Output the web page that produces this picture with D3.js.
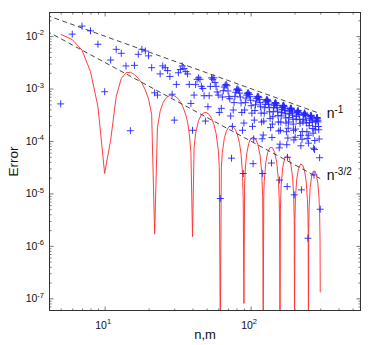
<!DOCTYPE html>
<html>
<head>
<meta charset="utf-8">
<script src="https://cdn.jsdelivr.net/npm/d3@7"></script>
<style>
  body { margin: 0; background: #fff; }
  svg { display: block; font-family: "Liberation Sans", Arial, Helvetica, sans-serif; }
</style>
</head>
<body>
<div id="chart"></div>
<script>
// Error vs n,m — log-log, red curve + blue "+" markers + two reference slopes

// ---- data ----
const redN = [5,6,7,8,9,10,11,12,13,14,15,16,17,18,19,20,21,22,23,24,25,26,27,28,29,30,31,32,33,34,35,36,37,38,39,40,
  41,42,44,46,48,50,52,54,56,58,60,61,62,
  63,64,66,68,70,72,75,78,81,84,86,88,89,90,
  91,92,94,97,100,104,108,112,116,119,121,122,
  123,124,127,131,136,141,146,151,155,157,158,159,
  160,162,166,171,177,183,189,194,197,199,200,
  201,203,207,213,220,227,234,240,245,247,248,249,
  250,252,256,262,269,276,283,289,294,297,299,300];
const redErr = [1.08e-2,8.6e-3,5.4e-3,2.1e-3,4.5e-4,2.4e-5,1.05e-4,7.0e-4,1.56e-3,2.0e-3,2.05e-3,1.85e-3,1.56e-3,1.27e-3,9.4e-4,6.3e-4,3.2e-4,1.7e-6,1.8e-4,3.7e-4,5.2e-4,6.3e-4,7.0e-4,7.4e-4,7.5e-4,7.3e-4,6.9e-4,6.3e-4,5.6e-4,4.8e-4,3.9e-4,3.1e-4,2.3e-4,1.4e-4,6.0e-5,1.5e-6,
  7.4e-5,1.41e-4,2.46e-4,3.15e-4,3.48e-4,3.47e-4,3.19e-4,2.71e-4,2.09e-4,1.39e-4,6.9e-5,3.3e-5,2e-8,
  3.1e-5,6.0e-5,1.11e-4,1.50e-4,1.77e-4,1.91e-4,1.92e-4,1.72e-4,1.35e-4,8.96e-5,5.6e-5,2.4e-5,7.6e-6,8e-8,
  1.55e-5,3.05e-5,5.7e-5,8.9e-5,1.10e-4,1.195e-4,1.10e-4,8.66e-5,5.4e-5,2.67e-5,8.7e-6,2e-8,
  8.6e-6,1.68e-5,3.87e-5,6.1e-5,7.55e-5,7.47e-5,6.1e-5,3.9e-5,1.83e-5,7.8e-6,2.6e-6,2e-8,
  5.0e-6,1.47e-5,3.14e-5,4.6e-5,5.3e-5,4.85e-5,3.5e-5,1.98e-5,9.8e-6,3.2e-6,2e-8,
  2.9e-6,8.5e-6,1.86e-5,3.0e-5,3.63e-5,3.49e-5,2.72e-5,1.72e-5,7.7e-6,3.8e-6,1.9e-6,2e-8,
  1.96e-6,5.9e-6,1.3e-5,2.14e-5,2.66e-5,2.66e-5,2.19e-5,1.52e-5,8.5e-6,4.2e-6,1.35e-6,1.3e-7];

const blueN = [5,6,7,8,9,10,11,12,13,14,15,16,17,18,19,
  20,21,22,23,24,25,26,27,28,29,30,31,32,33,34,35,36,37,38,39,
  40,41,42,43,44,45,46,47,48,49,51,52,53,54,55,56,57,58,59,60,61,
  62,63,64,65,66,67,68,69,70,71,72,73,74,75,76,77,78,79,80,
  81,82,83,84,85,86,87,88,89,90,91,92,93,94,95,96,97,98,99,100,
  102,104,106,108,110,112,114,116,118,120,121,122,124,126,128,130,132,134,136,137,139,
  141,143,145,147,149,151,153,155,157,158,160,162,164,166,168,170,172,174,176,178,
  180,182,184,186,188,190,192,194,196,198,199,202,205,208,211,214,217,220,223,
  225,228,231,234,237,240,243,247,249,252,255,258,261,264,267,270,272,
  274,277,280,283,286,289,292,295,297,300,
  101,103,105,107,109,111,113,115,117,119,123,125,127,129,131,133,135,140,142,144,146,148,150,152,154,156,
  159,161,163,165,167,169,171,173,175,177,179,181,183,185,187,189,191,193,195,197,
  203,206,209,212,215,218,221,226,229,232,235,238,241,244,
  250,253,256,259,262,265,268,275,278,281,284,287,290,293];
const blueErr = [5.1e-4,1.09e-2,1.55e-2,1.26e-2,7.0e-3,8.7e-4,3.5e-3,5.6e-3,4.7e-3,2.7e-3,1.57e-4,2.77e-3,4.5e-3,5.6e-3,5.2e-3,
  4.2e-3,2.5e-3,8.3e-4,7.5e-4,1.9e-3,2.7e-3,2.5e-3,2.2e-3,1.7e-3,7.8e-4,2.5e-4,1.2e-3,2.0e-3,2.3e-3,2.7e-3,2.4e-3,2.1e-3,1.9e-3,1.2e-3,5.2e-4,
  1.6e-4,7.5e-4,1.2e-3,1.5e-3,1.6e-3,1.5e-3,1.1e-3,1.0e-3,7.3e-4,2.4e-4,4.5e-4,7.3e-4,1.1e-3,1.6e-3,1.5e-3,1.6e-3,1.3e-3,1.1e-3,8.6e-4,7.5e-4,3.5e-4,
  8.0e-6,4.2e-4,6.9e-4,9.1e-4,1.07e-3,1.16e-3,1.2e-3,1.13e-3,9.0e-4,7.0e-4,6.4e-4,3.0e-4,4.7e-5,1.9e-4,3.9e-4,5.4e-4,7.1e-4,8.5e-4,9.4e-4,
  9.8e-4,9.7e-4,9.2e-4,8.2e-4,6.9e-4,5.3e-4,3.5e-4,1.6e-4,2.4e-5,2.2e-4,3.9e-4,5.4e-4,6.6e-4,7.5e-4,8.1e-4,8.3e-4,8.2e-4,7.7e-4,7.0e-4,6.0e-4,
  3.4e-4,3.7e-5,2.5e-4,4.9e-4,6.5e-4,7.1e-4,6.7e-4,5.4e-4,3.4e-4,1.1e-4,2.4e-5,1.3e-4,3.4e-4,5.0e-4,6.0e-4,6.1e-4,5.6e-4,4.4e-4,2.7e-4,1.8e-4,3.8e-5,
  2.1e-4,3.6e-4,4.8e-4,5.3e-4,5.3e-4,4.75e-4,3.7e-4,2.3e-4,7.4e-5,1.8e-5,1.6e-4,3.0e-4,4.0e-4,4.6e-4,4.8e-4,4.5e-4,3.8e-4,2.75e-4,1.5e-4,1.35e-5,
  1.14e-4,2.3e-4,3.3e-4,3.9e-4,4.2e-4,4.2e-4,3.75e-4,3.1e-4,2.1e-4,1.05e-4,9.4e-6,1.18e-4,2.6e-4,3.5e-4,3.8e-4,3.45e-4,2.55e-4,1.28e-4,1.17e-5,
  1.08e-4,2.3e-4,3.1e-4,3.4e-4,3.2e-4,2.5e-4,1.5e-4,1.4e-6,9.1e-5,1.96e-4,2.7e-4,3.06e-4,2.99e-4,2.5e-4,1.73e-4,7.3e-5,2.25e-5,
  6.9e-5,1.63e-4,2.34e-4,2.74e-4,2.78e-4,2.49e-4,1.89e-4,1.09e-4,4.8e-5,5.0e-6,
  4.7e-4,1.9e-4,1.1e-4,3.8e-4,5.8e-4,6.9e-4,7.0e-4,6.2e-4,4.5e-4,2.3e-4,2.4e-4,4.3e-4,5.6e-4,6.2e-4,5.9e-4,5.0e-4,3.6e-4,1.17e-4,2.9e-4,4.3e-4,5.1e-4,5.4e-4,5.1e-4,4.3e-4,3.05e-4,1.55e-4,
  8.7e-5,2.3e-4,3.5e-4,4.35e-4,4.7e-4,4.7e-4,4.2e-4,3.3e-4,2.2e-4,8.5e-5,4.9e-5,1.75e-4,2.8e-4,3.6e-4,4.1e-4,4.2e-4,4.0e-4,3.4e-4,2.6e-4,1.6e-4,
  1.69e-4,2.95e-4,3.66e-4,3.75e-4,3.2e-4,2.17e-4,8.1e-5,1.52e-4,2.6e-4,3.26e-4,3.4e-4,3.03e-4,2.2e-4,1.12e-4,
  1.29e-4,2.25e-4,2.9e-4,3.09e-4,2.88e-4,2.29e-4,1.41e-4,1.02e-4,1.9e-4,2.5e-4,2.79e-4,2.72e-4,2.32e-4,1.64e-4];

// reference slopes, drawn from n=4 to n=300
const refN = [4, 300];
const refInv = [0.025, 3.33e-4];      // 0.1 n^-1
const refInv32 = [0.0125, 1.92e-5];   // 0.1 n^-3/2

const xTickExp = [1, 2];
const yTickExp = [-2, -3, -4, -5, -6, -7];
const xDomain = [4.19, 566];
const yDomain = [5.86e-8, 2.82e-2];

// ---- layout ----
const W = 374, H = 345;
const M = { left: 49.5, right: 13.5, top: 12.5, bottom: 34.5 };

const x = d3.scaleLog().domain(xDomain).range([M.left, W - M.right]);
const y = d3.scaleLog().domain(yDomain).range([H - M.bottom, M.top]);

const svg = d3.select("#chart").append("svg").attr("width", W).attr("height", H);

svg.append("defs").append("clipPath").attr("id", "plotClip").append("rect")
  .attr("x", M.left).attr("y", M.top)
  .attr("width", W - M.left - M.right).attr("height", H - M.top - M.bottom);

// log ticks: every d*10^k inside the domain
function logTicks(dom) {
  const out = [];
  for (let e = Math.floor(Math.log10(dom[0])); e <= Math.ceil(Math.log10(dom[1])); e++)
    for (let d = 1; d < 10; d++) {
      const v = d * Math.pow(10, e);
      if (v >= dom[0] && v <= dom[1]) out.push(v);
    }
  return out;
}
const isDecade = v => Math.abs(Math.log10(v) - Math.round(Math.log10(v))) < 1e-9;
const xMinor = logTicks(xDomain).filter(v => !isDecade(v));
const yMinor = logTicks(yDomain).filter(v => !isDecade(v));
const xMajor = xTickExp.map(e => Math.pow(10, e));
const yMajor = yTickExp.map(e => Math.pow(10, e));

function ticks(axisFn, scale, values, size, tx, ty) {
  svg.append("g").attr("class", "ticks").attr("transform", `translate(${tx},${ty})`)
    .call(axisFn(scale).tickValues(values).tickSize(size).tickFormat(""))
    .call(g => g.select(".domain").remove())
    .selectAll("line").attr("stroke", "#555").attr("stroke-width", 0.8);
}
[[xMinor, -2], [xMajor, -4]].forEach(([v, s]) => {
  ticks(d3.axisBottom, x, v, s, 0, H - M.bottom);
  ticks(d3.axisTop, x, v, s, 0, M.top);
});
[[yMinor, -2], [yMajor, -4]].forEach(([v, s]) => {
  ticks(d3.axisLeft, y, v, s, M.left, 0);
  ticks(d3.axisRight, y, v, s, W - M.right, 0);
});

// ---- marks ----
const plot = svg.append("g").attr("clip-path", "url(#plotClip)");

const line = d3.line().x(d => x(d[0])).y(d => y(d[1]));

plot.append("path")
  .datum(d3.zip(redN, redErr))
  .attr("d", line)
  .attr("fill", "none")
  .attr("stroke", "#ff3535")
  .attr("stroke-width", 0.95);

[refInv, refInv32].forEach(vals => {
  plot.append("path")
    .datum(d3.zip(refN, vals))
    .attr("d", line)
    .attr("fill", "none")
    .attr("stroke", "#333")
    .attr("stroke-width", 0.9)
    .attr("stroke-dasharray", "5,3.3");
});

plot.selectAll("path.pt").data(d3.zip(blueN, blueErr)).join("path")
  .attr("class", "pt")
  .attr("transform", d => `translate(${x(d[0])},${y(d[1])})`)
  .attr("d", "M-3.5,0H3.5M0,-3.5V3.5")
  .attr("stroke", "#2424ff")
  .attr("stroke-width", 0.9)
  .attr("fill", "none");

// box
svg.append("rect")
  .attr("x", M.left).attr("y", M.top)
  .attr("width", W - M.left - M.right).attr("height", H - M.top - M.bottom)
  .attr("fill", "none").attr("stroke", "#333").attr("stroke-width", 1);

// ---- tick labels 10^k ----
function powLabel(g, e, fs, sfs, rise) {
  g.append("tspan").attr("font-size", fs).text("10");
  g.append("tspan").attr("font-size", sfs).attr("dy", -rise).text(String(e));
}
xTickExp.forEach(e => {
  const t = svg.append("text").attr("x", x(Math.pow(10, e)) - 1.5).attr("y", 328.5)
    .attr("text-anchor", "middle").attr("fill", "#111");
  powLabel(t, e, 10.5, 7.5, 4.5);
});
yTickExp.forEach(e => {
  const t = svg.append("text").attr("x", 44).attr("y", y(Math.pow(10, e)) + 3.8)
    .attr("text-anchor", "end").attr("fill", "#111");
  powLabel(t, e, 10.5, 7.5, 4.5);
});

// axis titles
svg.append("text")
  .attr("transform", `translate(18.3,${(M.top + H - M.bottom) / 2}) rotate(-90)`)
  .attr("text-anchor", "middle").attr("font-size", 13.5).attr("fill", "#111")
  .text("Error");
svg.append("text")
  .attr("x", (M.left + W - M.right) / 2).attr("y", 338.5)
  .attr("text-anchor", "middle").attr("font-size", 13).attr("fill", "#111")
  .text("n,m");

// slope labels
[["-1", 118.3], ["-3/2", 180]].forEach(([sup, yy]) => {
  const t = svg.append("text").attr("x", 326.7).attr("y", yy).attr("fill", "#111");
  t.append("tspan").attr("font-size", 14).text("n");
  t.append("tspan").attr("font-size", 10).attr("dy", -5.5).text(sup);
});
</script>
</body>
</html>
